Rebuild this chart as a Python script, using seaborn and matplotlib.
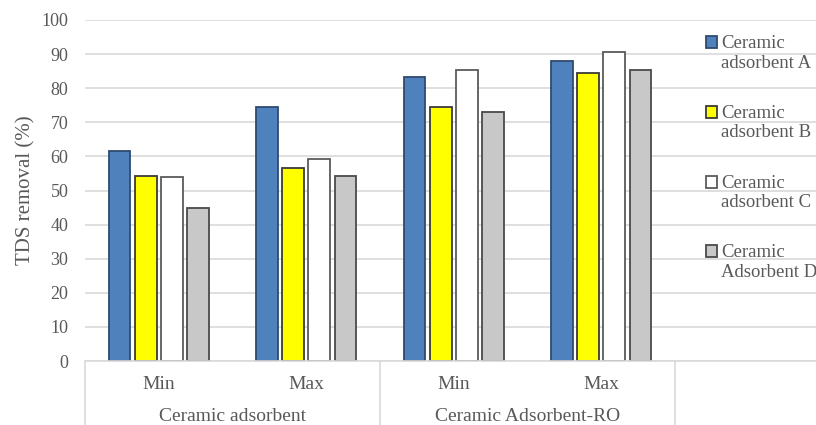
import matplotlib
matplotlib.use("Agg")
import matplotlib.pyplot as plt
from matplotlib.patches import Patch
from matplotlib.transforms import blended_transform_factory
import seaborn as sns
import pandas as pd

# --- data -------------------------------------------------------------
groups = ["Ceramic adsorbent", "Ceramic adsorbent", "Ceramic Adsorbent-RO", "Ceramic Adsorbent-RO"]
levels = ["Min", "Max", "Min", "Max"]
series = ["Ceramic\nadsorbent A", "Ceramic\nadsorbent B", "Ceramic\nadsorbent C", "Ceramic\nAdsorbent D"]
adsorbent_a = [61.7, 74.6, 83.4, 88.0]
adsorbent_b = [54.3, 56.6, 74.4, 84.5]
adsorbent_c = [54.0, 59.3, 85.3, 90.7]
adsorbent_d = [45.0, 54.3, 73.1, 85.4]
y_ticks = list(range(0, 101, 10))

colors = ["#4f81bd", "#ffff00", "#ffffff", "#c8c8c8"]
edges = ["#2f4a6e", "#3a3a3a", "#5a5a5a", "#4a4a4a"]
text_col = "#595959"
grid_col = "#d9d9d9"

keys = [f"{g}|{l}" for g, l in zip(groups, levels)]
rows = []
for name, vals in zip(series, [adsorbent_a, adsorbent_b, adsorbent_c, adsorbent_d]):
    for k, v in zip(keys, vals):
        rows.append({"cond": k, "removal": v, "adsorbent": name})
df = pd.DataFrame(rows)

# --- figure -----------------------------------------------------------
sns.set_theme(style="white")
plt.rcParams["font.family"] = ["Liberation Serif", "DejaVu Serif"]

fig = plt.figure(figsize=(8.16, 4.25), dpi=100)
ax = fig.add_axes([85 / 816, 1 - 361 / 425, 1 - 85 / 816, (361 - 20) / 425])

sns.barplot(data=df, x="cond", y="removal", hue="adsorbent", order=keys,
            hue_order=series, palette=colors, width=0.71, gap=0.17,
            linewidth=1.3, saturation=1, legend=False, ax=ax)
for cont, ec in zip(ax.containers, edges):
    for bar in cont:
        bar.set_edgecolor(ec)

slot = 147.5
ax.set_xlim(-0.5, -0.5 + (816 - 85) / slot)
ax.set_ylim(0, 100)
ax.set_yticks(y_ticks)
ax.set_yticklabels([str(t) for t in y_ticks], color=text_col, fontsize=13)
ax.yaxis.grid(True, color=grid_col, linewidth=1.2)
ax.set_axisbelow(True)
for s in ["top", "right", "left"]:
    ax.spines[s].set_visible(False)
ax.spines["bottom"].set_color(grid_col)
ax.spines["bottom"].set_linewidth(1.2)
ax.tick_params(axis="y", length=0, pad=12)
ax.tick_params(axis="x", length=0, pad=11)
ax.set_xticks(range(len(keys)))
ax.set_xticklabels(levels, color=text_col, fontsize=14)
ax.set_xlabel("")
ax.set_ylabel("TDS removal (%)", color=text_col, fontsize=15, labelpad=4)

# two-level category axis: group names and separators below the axis
tr = blended_transform_factory(ax.transData, ax.transAxes)
for xpos in [-0.5, 1.5, 3.5]:
    ax.plot([xpos, xpos], [0, -0.2], transform=tr, color=grid_col,
            linewidth=1.2, clip_on=False)
for xpos, name in [(0.5, "Ceramic adsorbent"), (2.5, "Ceramic Adsorbent-RO")]:
    ax.text(xpos, -0.164, name, transform=tr, ha="center", va="center",
            color=text_col, fontsize=14)

handles = [Patch(facecolor=c, edgecolor=e, linewidth=1.3) for c, e in zip(colors, edges)]
leg = fig.legend(handles, series, loc="upper left", bbox_to_anchor=(706 / 816, 1 - 35 / 425),
                 frameon=False, fontsize=13.5, labelcolor=text_col, handlelength=0.6,
                 handleheight=0.6, handletextpad=0.2, labelspacing=1.77,
                 borderaxespad=0, borderpad=0)
# raise each key square to sit beside the first line of its label
for p in leg.get_patches():
    p.set_y(p.get_y() + 8)

fig.savefig("out.png", dpi=100)
